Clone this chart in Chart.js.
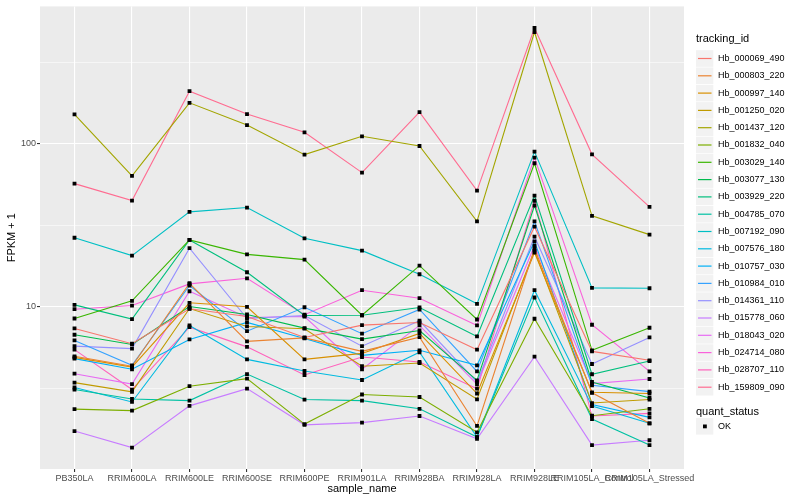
<!DOCTYPE html>
<html>
<head>
<meta charset="utf-8">
<script src="https://cdn.jsdelivr.net/npm/chart.js@4.4.0/dist/chart.umd.min.js"></script>
<style>
  body { margin: 0; background: #fff; }
</style>
</head>
<body>
<canvas id="fpkmChart" width="800" height="500"></canvas>
<script>
// samples on the x axis
var sampleNames = ['PB350LA', 'RRIM600LA', 'RRIM600LE', 'RRIM600SE', 'RRIM600PE', 'RRIM901LA',
  'RRIM928BA', 'RRIM928LA', 'RRIM928LE', 'RRIM105LA_Control', 'RRIM105LA_Stressed'];

// FPKM + 1 per gene, one value per sample
var hb_000069_490 = [7.37, 5.94, 9.72, 8.72, 6.49, 7.72, 8.02, 5.46, 31.0, 5.33, 4.70];
var hb_000803_220 = [4.97, 4.32, 13.94, 6.14, 6.45, 5.33, 6.52, 1.86, 22.7, 2.97, 1.93];
var hb_000997_140 = [4.90, 4.27, 10.58, 10.0, 4.76, 5.18, 6.87, 2.94, 21.5, 2.99, 2.94];
var hb_001250_020 = [3.43, 3.01, 9.76, 7.58, 7.34, 4.32, 4.52, 2.71, 22.1, 2.57, 2.70];
var hb_001437_120 = [151.2, 63.5, 178.1, 130.1, 85.7, 111.0, 96.8, 33.4, 484, 36.1, 27.7];
var hb_001832_040 = [2.36, 2.31, 3.26, 3.63, 1.91, 2.90, 2.80, 1.70, 8.45, 2.15, 2.37];
var hb_003029_140 = [8.48, 10.88, 25.7, 20.96, 19.46, 8.88, 17.88, 8.36, 75.9, 5.41, 7.44];
var hb_003077_130 = [6.74, 5.88, 10.04, 8.97, 7.40, 6.34, 7.16, 3.54, 41.8, 3.46, 2.76];
var hb_003929_220 = [10.28, 8.40, 25.7, 16.28, 8.84, 8.88, 9.90, 6.58, 48.1, 3.86, 4.65];
var hb_004785_070 = [3.11, 2.72, 2.66, 3.87, 2.70, 2.66, 2.37, 1.59, 11.4, 2.05, 1.42];
var hb_007192_090 = [26.5, 20.6, 38.2, 40.6, 26.3, 22.1, 15.83, 10.43, 89.4, 13.07, 12.99];
var hb_007576_180 = [3.20, 2.61, 7.69, 4.76, 4.04, 3.56, 5.26, 1.59, 12.64, 2.46, 1.93];
var hb_010757_030 = [4.81, 4.14, 6.31, 8.02, 6.40, 5.04, 5.41, 4.38, 25.2, 2.52, 2.10];
var hb_010984_010 = [6.22, 4.38, 13.5, 7.09, 9.94, 6.84, 9.63, 4.02, 33.4, 3.30, 3.02];
var hb_014361_110 = [5.74, 5.54, 22.9, 8.48, 8.84, 5.74, 8.21, 3.45, 26.9, 4.46, 6.49];
var hb_015778_060 = [1.73, 1.37, 2.47, 3.15, 1.89, 1.95, 2.14, 1.55, 4.95, 1.42, 1.52];
var hb_018043_020 = [3.89, 3.36, 12.45, 8.60, 8.72, 4.14, 7.69, 3.35, 23.7, 3.38, 3.61];
var hb_024714_080 = [9.67, 10.18, 13.82, 14.95, 8.94, 12.64, 11.29, 7.69, 82.1, 7.76, 4.02];
var hb_028707_110 = [5.46, 3.11, 7.50, 5.68, 3.82, 4.92, 4.59, 3.15, 44.7, 2.14, 2.22];
var hb_159809_090 = [56.9, 44.8, 209.9, 151.9, 117.4, 66.5, 156.2, 51.6, 512, 86.1, 41.0];

var trackingIds = ['Hb_000069_490', 'Hb_000803_220', 'Hb_000997_140', 'Hb_001250_020', 'Hb_001437_120',
  'Hb_001832_040', 'Hb_003029_140', 'Hb_003077_130', 'Hb_003929_220', 'Hb_004785_070',
  'Hb_007192_090', 'Hb_007576_180', 'Hb_010757_030', 'Hb_010984_010', 'Hb_014361_110',
  'Hb_015778_060', 'Hb_018043_020', 'Hb_024714_080', 'Hb_028707_110', 'Hb_159809_090'];
var seriesValues = [hb_000069_490, hb_000803_220, hb_000997_140, hb_001250_020, hb_001437_120,
  hb_001832_040, hb_003029_140, hb_003077_130, hb_003929_220, hb_004785_070,
  hb_007192_090, hb_007576_180, hb_010757_030, hb_010984_010, hb_014361_110,
  hb_015778_060, hb_018043_020, hb_024714_080, hb_028707_110, hb_159809_090];

var yTickValues = [3.1623, 10, 31.623, 100, 316.23];
var yLabelled = [10, 100];

// ggplot default hue palette for 20 groups
var hueColors = ['#F8766D', '#EA8331', '#D89000', '#C09B00', '#A3A500', '#7CAE00', '#39B600',
  '#00BB4E', '#00BF7D', '#00C1A3', '#00BFC4', '#00BAE0', '#00B0F6', '#35A2FF', '#9590FF',
  '#C77CFF', '#E76BF3', '#FA62DB', '#FF62BC', '#FF6C91'];

var FONT = '"Liberation Sans", Arial, sans-serif';

function toPoints(vals) {
  return vals.map(function (v, i) { return { x: i, y: v }; });
}

var datasets = [];
for (var i = 0; i < seriesValues.length; i++) {
  datasets.push({
    label: trackingIds[i],
    data: toPoints(seriesValues[i]),
    borderColor: hueColors[i],
    borderWidth: 1.1,
    pointRadius: 0,
    fill: false,
    tension: 0,
    order: 1
  });
}
for (var j = 0; j < seriesValues.length; j++) {
  datasets.push({
    label: trackingIds[j] + ' OK',
    data: toPoints(seriesValues[j]),
    showLine: false,
    pointStyle: 'rect',
    pointRadius: 2.7,
    pointBackgroundColor: '#000',
    pointBorderWidth: 0,
    order: 0
  });
}

var panelPlugin = {
  id: 'panel',
  beforeDraw: function (chart) {
    var a = chart.chartArea, ctx = chart.ctx;
    ctx.save();
    ctx.fillStyle = '#EBEBEB';
    ctx.fillRect(a.left, a.top, a.right - a.left, a.bottom - a.top);
    ctx.restore();
  },
  afterDraw: function (chart) {
    var ctx = chart.ctx, a = chart.chartArea;
    ctx.save();
    // axis titles
    ctx.fillStyle = '#000';
    ctx.font = '11px ' + FONT;
    ctx.textAlign = 'center';
    ctx.textBaseline = 'middle';
    ctx.fillText('sample_name', (a.left + a.right) / 2, 489);
    ctx.save();
    ctx.translate(12, (a.top + a.bottom) / 2);
    ctx.rotate(-Math.PI / 2);
    ctx.fillText('FPKM + 1', 0, 0);
    ctx.restore();

    // legend: tracking_id
    ctx.textAlign = 'left';
    ctx.fillText('tracking_id', 696, 39);
    var step = 17.3;
    for (var k = 0; k < trackingIds.length; k++) {
      var cy = 58.5 + k * step;
      ctx.fillStyle = '#F2F2F2';
      ctx.fillRect(696, cy - 8.3, 17.3, 16.6);
      ctx.strokeStyle = hueColors[k];
      ctx.lineWidth = 1.2;
      ctx.beginPath();
      ctx.moveTo(698, cy);
      ctx.lineTo(711.5, cy);
      ctx.stroke();
      ctx.fillStyle = '#000';
      ctx.font = '9px ' + FONT;
      ctx.fillText(trackingIds[k], 718, cy);
    }
    // legend: quant_status
    ctx.font = '11px ' + FONT;
    ctx.fillText('quant_status', 696, 412);
    ctx.fillStyle = '#F2F2F2';
    ctx.fillRect(696, 418, 17.3, 16.6);
    ctx.fillStyle = '#000';
    ctx.fillRect(703, 424.5, 3.8, 3.8);
    ctx.font = '9px ' + FONT;
    ctx.fillText('OK', 718, 426.5);
    ctx.restore();
  }
};

var ctx = document.getElementById('fpkmChart');
var fpkmChart = new Chart(ctx, {
  type: 'line',
  data: { datasets: datasets },
  options: {
    responsive: false,
    animation: false,
    layout: { padding: { top: 5, right: 116, left: 0, bottom: 0 } },
    plugins: {
      legend: { display: false },
      tooltip: { enabled: false }
    },
    scales: {
      x: {
        type: 'linear',
        min: -0.6,
        max: 10.6,
        afterBuildTicks: function (scale) {
          scale.ticks = sampleNames.map(function (n, i) { return { value: i }; });
        },
        afterFit: function (scale) { scale.height = 31; },
        border: { display: false },
        grid: {
          color: '#FFFFFF',
          lineWidth: 1.1,
          tickColor: '#333333',
          tickLength: 3
        },
        ticks: {
          autoSkip: false,
          maxRotation: 0,
          minRotation: 0,
          padding: 1,
          color: '#4D4D4D',
          font: { family: FONT, size: 9 },
          callback: function (v) { return sampleNames[v]; }
        }
      },
      y: {
        type: 'logarithmic',
        min: 1.013,
        max: 694.6,
        afterBuildTicks: function (scale) {
          scale.ticks = yTickValues.map(function (v) { return { value: v }; });
        },
        afterFit: function (scale) { scale.width = 40; },
        border: { display: false },
        grid: {
          color: '#FFFFFF',
          lineWidth: function (c) { return yLabelled.indexOf(c.tick.value) >= 0 ? 1.1 : 0.55; },
          tickColor: function (c) { return yLabelled.indexOf(c.tick.value) >= 0 ? '#333333' : 'rgba(0,0,0,0)'; },
          tickLength: 3
        },
        ticks: {
          padding: 1,
          color: '#4D4D4D',
          font: { family: FONT, size: 9 },
          callback: function (v) { return yLabelled.indexOf(v) >= 0 ? String(v) : ''; }
        }
      }
    }
  },
  plugins: [panelPlugin]
});
</script>
</body>
</html>
